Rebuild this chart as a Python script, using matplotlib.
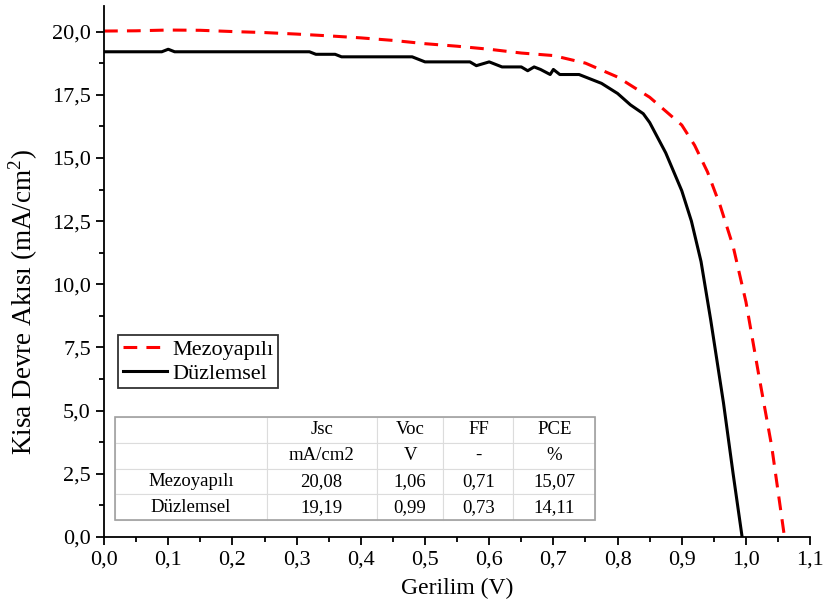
import numpy as np
import matplotlib
matplotlib.use("Agg")
import matplotlib.pyplot as plt
from matplotlib.ticker import MultipleLocator, FuncFormatter
from matplotlib.patches import Rectangle

plt.rcParams['font.family'] = ['Liberation Serif', 'DejaVu Serif']
plt.rcParams['mathtext.fontset'] = 'custom'
plt.rcParams['mathtext.rm'] = 'Liberation Serif'

# J-V curves
v_mezo = [0, 0.05, 0.1, 0.15, 0.2, 0.25, 0.3, 0.35, 0.4, 0.45, 0.5, 0.55, 0.6,
          0.65, 0.7, 0.75, 0.8, 0.85, 0.9, 0.92, 0.94, 0.96, 0.98, 1.0, 1.02,
          1.04, 1.06]
j_mezo = [20.02, 20.03, 20.06, 20.05, 20.0, 19.96, 19.9, 19.83, 19.75, 19.65,
          19.52, 19.42, 19.3, 19.15, 19.05, 18.75, 18.2, 17.4, 16.3, 15.5,
          14.45, 13.1, 11.5, 9.3, 6.4, 3.6, 0.0]

v_duz = [0, 0.05, 0.09, 0.1, 0.11, 0.2, 0.32, 0.33, 0.36, 0.37, 0.48, 0.5,
         0.57, 0.58, 0.6, 0.62, 0.65, 0.66, 0.67, 0.68, 0.695, 0.7, 0.71, 0.74,
         0.775, 0.8, 0.82, 0.84, 0.85, 0.875, 0.9, 0.915, 0.93, 0.945, 0.965,
         0.98, 0.994]
j_duz = [19.2, 19.2, 19.2, 19.3, 19.2, 19.2, 19.2, 19.1, 19.1, 19.0, 19.0, 18.8,
         18.8, 18.65, 18.8, 18.6, 18.6, 18.45, 18.6, 18.5, 18.3, 18.5, 18.3, 18.3,
         17.95, 17.55, 17.1, 16.75, 16.4, 15.2, 13.7, 12.5, 10.9, 8.6, 5.3,
         2.5, 0.0]

# parameter table
col_labels = ["", "Jsc", "Voc", "FF", "PCE"]
unit_row = ["", "mA/cm2", "V", "-", "%"]
row_mezo = ["Mezoyapılı", "20,08", "1,06", "0,71", "15,07"]
row_duz = ["Düzlemsel", "19,19", "0,99", "0,73", "14,11"]

fig = plt.figure(figsize=(8.23, 6.10), dpi=100)
ax = fig.add_axes([0.1264, 0.1197, 0.858, 0.870])

ax.plot(v_mezo, j_mezo, color="red", lw=2.2, ls=(0, (4.5, 3)), label="Mezoyapılı")
ax.plot(v_duz, j_duz, color="black", lw=2.2, label="Düzlemsel")

ax.set_xlim(0, 1.1)
ax.set_ylim(0, 21)
ax.spines['top'].set_visible(False)
ax.spines['right'].set_visible(False)
ax.spines['left'].set_linewidth(1.3)
ax.spines['bottom'].set_linewidth(1.3)

ax.xaxis.set_major_locator(MultipleLocator(0.1))
ax.xaxis.set_minor_locator(MultipleLocator(0.05))
ax.yaxis.set_major_locator(MultipleLocator(2.5))
ax.yaxis.set_minor_locator(MultipleLocator(1.25))
ax.xaxis.set_major_formatter(FuncFormatter(lambda v, p: f"{v:.1f}".replace(".", ",")))
ax.yaxis.set_major_formatter(FuncFormatter(lambda v, p: f"{v:.1f}".replace(".", ",")))
ax.tick_params(which="major", direction="out", length=6, width=1.3, labelsize=16)
ax.tick_params(which="minor", direction="out", length=3.5, width=1.3)

ax.set_xlabel("Gerilim (V)", fontsize=17, labelpad=6)
ax.set_ylabel("Kisa Devre Akısı (mA/cm$^{2}$)", fontsize=19.5, labelpad=4)
ax.yaxis.set_label_coords(-0.09, 0.443)

leg = ax.legend(loc="lower left", bbox_to_anchor=(0.02, 0.28), fontsize=16,
                frameon=True, fancybox=False, borderpad=0.2, handlelength=2.0,
                labelspacing=0.15, handletextpad=0.25, borderaxespad=0)
leg.get_frame().set_edgecolor("black")
leg.get_frame().set_linewidth(1.3)

tbl_box = [0.0156, 0.032, 0.680, 0.194]
tbl = ax.table(cellText=[col_labels, unit_row, row_mezo, row_duz],
               cellLoc="center", bbox=tbl_box,
               colWidths=[152, 110, 67, 70, 82])
tbl.auto_set_font_size(False)
tbl.set_fontsize(13.5)
for (r, c), cell in tbl.get_celld().items():
    cell.set_edgecolor("#dcdcdc")
    cell.set_linewidth(0.8)
ax.add_patch(Rectangle((tbl_box[0], tbl_box[1]), tbl_box[2], tbl_box[3],
                       transform=ax.transAxes, fill=False,
                       edgecolor="#a0a0a0", lw=1.2, zorder=5))

fig.savefig("out.png", dpi=100)
